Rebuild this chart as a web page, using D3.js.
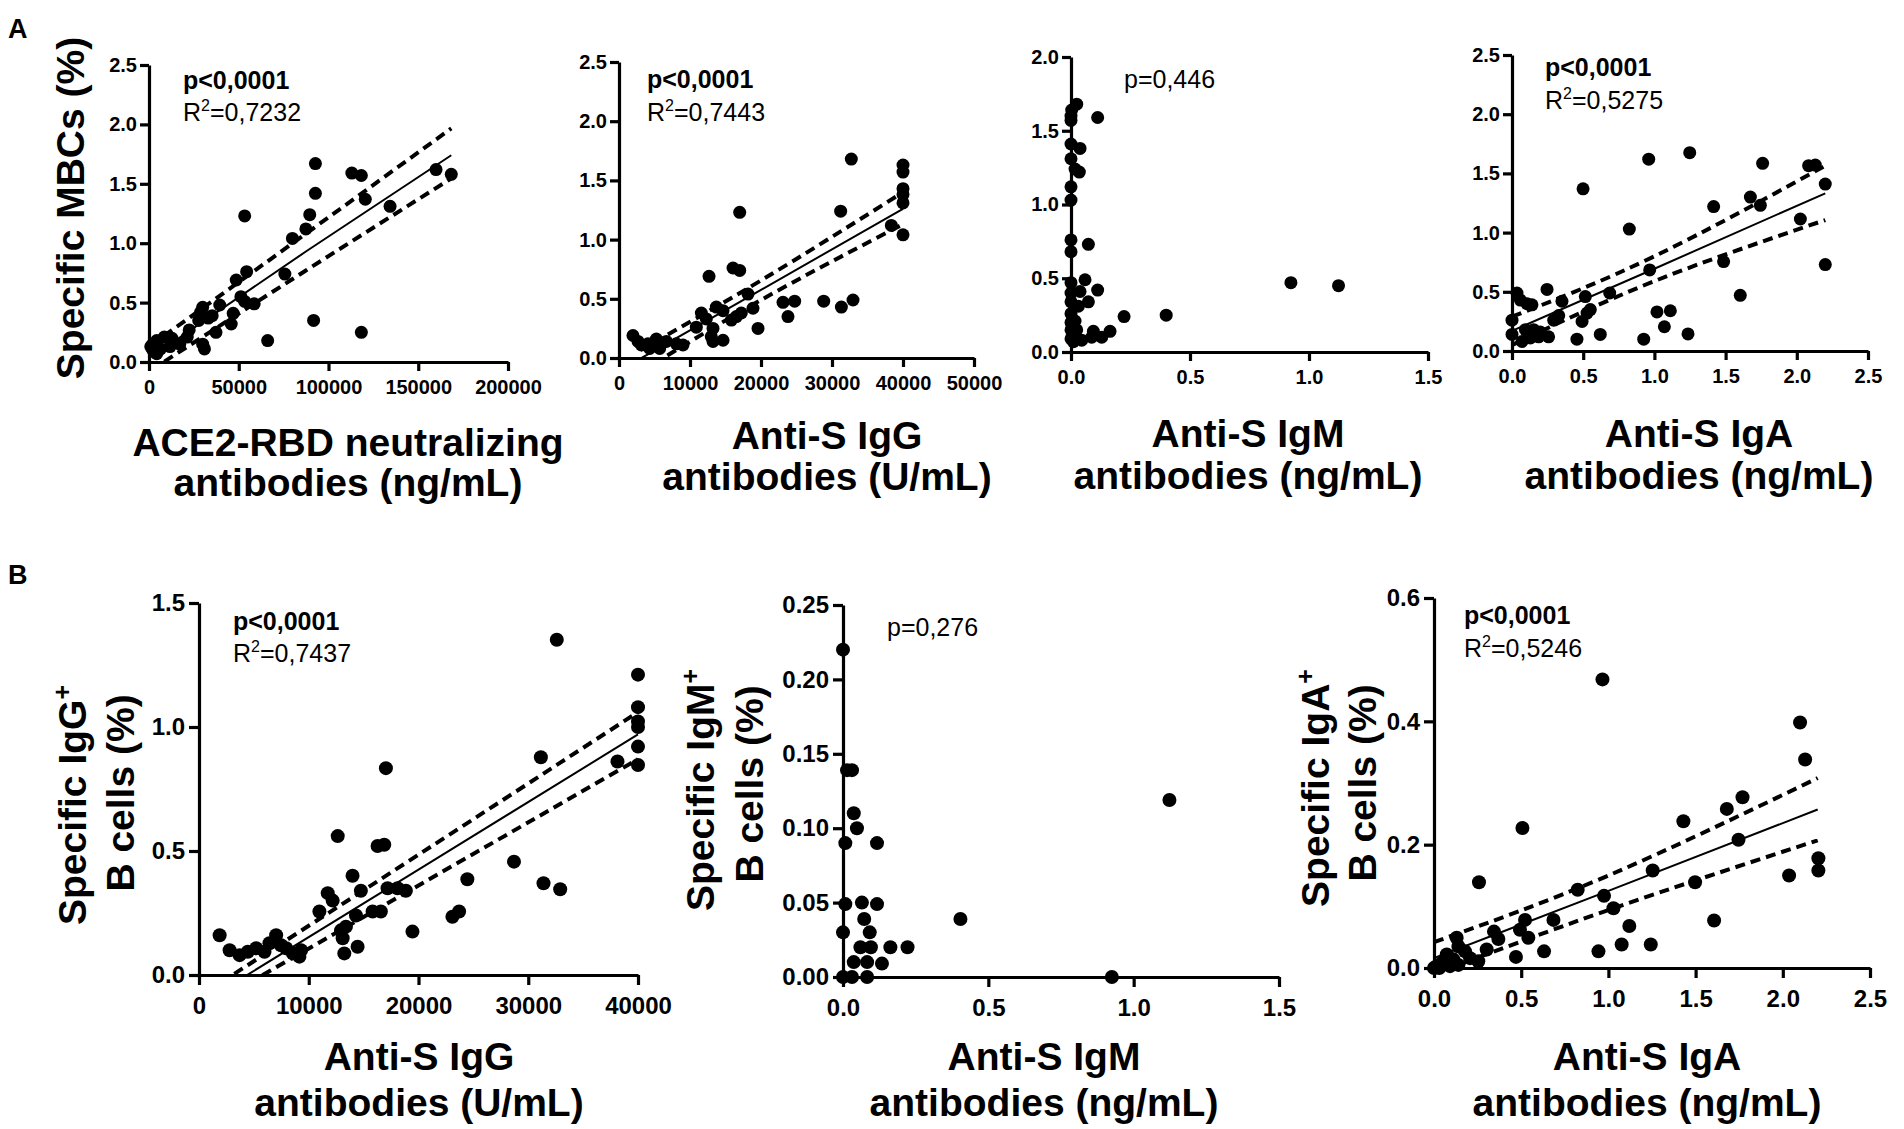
<!DOCTYPE html>
<html>
<head>
<meta charset="utf-8">
<script src="https://cdn.jsdelivr.net/npm/d3@7"></script>
<style>
  body { margin: 0; background: #fff; }
  svg { display: block; }
  text { font-family: "Liberation Sans", Arial, sans-serif; fill: #000; }
</style>
</head>
<body>
<svg id="fig" width="1904" height="1129"></svg>
<script>
// ---- values ----
// A: specific MBCs (%) against each antibody measure
const mbcVsAce2 = [[159900,1.62],[168400,1.58],[113000,1.59],[118300,1.57],[92700,1.67],[92700,1.42],[120500,1.37],[134300,1.31],[89550,1.24],[87400,1.12],[79900,1.04],[53300,1.23],[75700,0.74],[54400,0.76],[48600,0.69],[53300,0.51],[58600,0.49],[51200,0.55],[39400,0.48],[46900,0.41],[45800,0.32],[37300,0.25],[29900,0.46],[28800,0.42],[33000,0.37],[27700,0.35],[35200,0.39],[22400,0.27],[21300,0.21],[30900,0.11],[29900,0.15],[66100,0.18],[91700,0.35],[118300,0.25],[17100,0.15],[12800,0.20],[8500,0.21],[4300,0.18],[2100,0.15],[2100,0.10],[6400,0.11],[11700,0.13],[4300,0.07],[1000,0.13]];
const mbcVsIgG = [[32720,1.68],[40000,1.63],[40000,1.57],[40000,1.43],[40000,1.38],[40000,1.31],[40000,1.04],[38360,1.12],[31220,1.24],[17000,1.23],[16060,0.76],[17000,0.74],[12680,0.69],[18170,0.54],[18870,0.42],[19580,0.25],[23100,0.47],[24740,0.48],[23800,0.35],[28830,0.48],[31320,0.43],[32960,0.49],[17230,0.38],[16530,0.35],[15830,0.32],[14650,0.40],[13710,0.43],[11600,0.38],[12300,0.33],[10890,0.26],[13240,0.25],[13000,0.18],[13240,0.14],[14650,0.15],[8080,0.12],[9010,0.11],[6670,0.14],[5260,0.16],[4080,0.12],[3150,0.11],[1970,0.19],[2680,0.14],[5730,0.08],[4320,0.08]];
const mbcVsIgM = [[0.024,1.68],[0.003,1.64],[0,1.60],[0,1.57],[0.112,1.59],[0,1.41],[0.038,1.38],[0,1.31],[0.017,1.24],[0.035,1.22],[0,1.12],[0,1.03],[0,0.76],[0,0.68],[0.073,0.73],[0.059,0.49],[0,0.47],[0.112,0.42],[0,0.40],[0.038,0.41],[0.073,0.34],[0,0.34],[0.031,0.31],[0,0.26],[0,0.20],[0,0.15],[0,0.09],[0.024,0.15],[0.045,0.08],[0.087,0.10],[0.129,0.10],[0.164,0.14],[0.094,0.14],[0.223,0.24],[0.40,0.25],[0.924,0.47],[1.124,0.45],[0.017,0.21],[0.01,0.07]];
const mbcVsIgA = [[1.248,1.675],[0.960,1.62],[1.760,1.585],[2.083,1.565],[2.130,1.57],[2.200,1.41],[0.499,1.37],[1.674,1.30],[1.744,1.23],[1.416,1.22],[2.025,1.115],[0.824,1.03],[2.200,0.73],[1.486,0.755],[0.967,0.685],[1.603,0.47],[0.686,0.49],[0.246,0.52],[0.515,0.46],[1.018,0.33],[1.112,0.34],[1.070,0.205],[1.236,0.144],[0.925,0.10],[0.620,0.14],[0.456,0.10],[0.527,0.32],[0.550,0.35],[0.492,0.25],[0.351,0.42],[0.328,0.30],[0.293,0.26],[0.035,0.49],[0.059,0.43],[0.105,0.40],[0.14,0.39],[0,0.26],[0,0.14],[0.07,0.08],[0.129,0.11],[0.187,0.12],[0.257,0.12],[0.152,0.18],[0.199,0.16],[0.094,0.18]];

// B: isotype-specific B cells (%)
const igGCellsVsIgG = [[1880,0.16],[2790,0.10],[3700,0.08],[4450,0.094],[5210,0.108],[5970,0.094],[6420,0.128],[7030,0.16],[7480,0.12],[7940,0.108],[8550,0.087],[9150,0.074],[9300,0.10],[10970,0.256],[11730,0.33],[12640,0.56],[12180,0.30],[12940,0.18],[13090,0.148],[13240,0.087],[13390,0.195],[13990,0.40],[14300,0.24],[14450,0.114],[14750,0.34],[15820,0.256],[16270,0.52],[16880,0.525],[16570,0.256],[17030,0.834],[17180,0.35],[18090,0.35],[18850,0.34],[19450,0.175],[23090,0.235],[23700,0.256],[24450,0.386],[28700,0.457],[32600,1.352],[40000,1.211],[40000,1.08],[40000,1.022],[40000,1.0],[40000,0.921],[40000,0.847],[38130,0.861],[31150,0.878],[31390,0.37],[32910,0.346]];
const igMCellsVsIgM = [[0,0.22],[0.014,0.139],[0.031,0.139],[0.037,0.11],[0.048,0.10],[0.008,0.09],[0.117,0.09],[0.008,0.049],[0.065,0.05],[0.117,0.049],[0.073,0.039],[0,0.03],[0.092,0.03],[0.06,0.02],[0.096,0.02],[0.163,0.02],[0.222,0.02],[0.037,0.01],[0.083,0.01],[0.134,0.009],[0,0],[0.031,0],[0.083,0],[0.404,0.039],[0.925,0],[1.123,0.119]];
const igACellsVsIgA = [[0.966,0.468],[0.507,0.227],[0.258,0.139],[2.099,0.398],[2.128,0.338],[1.769,0.277],[1.679,0.258],[1.430,0.238],[1.746,0.208],[1.254,0.158],[1.497,0.139],[2.036,0.150],[2.204,0.178],[2.204,0.158],[0.824,0.127],[0.975,0.117],[1.029,0.097],[1.120,0.068],[1.606,0.077],[1.076,0.038],[1.243,0.038],[0.943,0.027],[0.685,0.078],[0.631,0.027],[0.470,0.018],[0.522,0.078],[0.493,0.062],[0.541,0.049],[0.344,0.059],[0.369,0.047],[0.302,0.030],[0.130,0.049],[0.140,0.035],[0.178,0.027],[0.207,0.016],[0.254,0.011],[0.073,0.022],[0.111,0.014],[0.044,0.008],[0.015,0.003],[0.092,0.003],[0.140,0.005],[0,0],[0.03,0]];

// regression fits, rows of [x, lower 95% band, fit, upper 95% band]
const fitAce2 = [[1000,-0.07,0.04,0.14],[87400,0.77,0.93,1.08],[168400,1.545,1.74,1.966]];
const fitIgG = [[3000,-0.12,-0.006,0.068],[20000,0.49,0.575,0.655],[40000,1.13,1.26,1.40]];
const fitIgA = [[0,0.05,0.17,0.29],[1.0,0.59,0.695,0.80],[2.2,1.106,1.332,1.565]];
const fitIgGCells = [[2000,-0.097,-0.065,-0.03],[20000,0.361,0.425,0.485],[40000,0.87,0.97,1.06]];
const fitIgACells = [[0,-0.01,0.016,0.042],[1.0,0.094,0.125,0.15],[2.2,0.207,0.257,0.308]];

// axis ticks
const ticksAce2 = [0, 50000, 100000, 150000, 200000];
const ticksIgG = [0, 10000, 20000, 30000, 40000, 50000];
const ticksIgGB = [0, 10000, 20000, 30000, 40000];
const ticksIgM = [0, 0.5, 1.0, 1.5];
const ticksIgA = [0, 0.5, 1.0, 1.5, 2.0, 2.5];
const ticksMbc = [0, 0.5, 1.0, 1.5, 2.0, 2.5];
const ticksMbcIgM = [0, 0.5, 1.0, 1.5, 2.0];
const ticksIgGCells = [0, 0.5, 1.0, 1.5];
const ticksIgMCells = [0, 0.05, 0.10, 0.15, 0.20, 0.25];
const ticksIgACells = [0, 0.2, 0.4, 0.6];

// texts
const statsText = [["p<0,0001", "0,7232"], ["p<0,0001", "0,7443"], ["p=0,446", null], ["p<0,0001", "0,5275"],
                   ["p<0,0001", "0,7437"], ["p=0,276", null], ["p<0,0001", "0,5246"]];
const xTitles = [["ACE2-RBD neutralizing", "antibodies (ng/mL)"], ["Anti-S IgG", "antibodies (U/mL)"],
                 ["Anti-S IgM", "antibodies (ng/mL)"], ["Anti-S IgA", "antibodies (ng/mL)"],
                 ["Anti-S IgG", "antibodies (U/mL)"], ["Anti-S IgM", "antibodies (ng/mL)"], ["Anti-S IgA", "antibodies (ng/mL)"]];

// ---- layout (pixels) ----
const panels = [
  { data: mbcVsAce2, fit: fitAce2, xr: [149, 508], yr: [362, 65], xd: [0, 200000], yd: [0, 2.5],
    xt: ticksAce2, yt: ticksMbc, xf: d3.format("d"), yf: d3.format(".1f"), row: "A",
    stat: [183, 89, 121], title: [348, 456, 496],
    ylab: [{ t: "Specific MBCs (%)", x: 84, y: 208 }] },
  { data: mbcVsIgG, fit: fitIgG, xr: [619, 974], yr: [358, 62], xd: [0, 50000], yd: [0, 2.5],
    xt: ticksIgG, yt: ticksMbc, xf: d3.format("d"), yf: d3.format(".1f"), row: "A",
    stat: [647, 88, 121], title: [827, 449, 490], ylab: [] },
  { data: mbcVsIgM, fit: null, xr: [1071, 1428], yr: [352, 57], xd: [0, 1.5], yd: [0, 2.0],
    xt: ticksIgM, yt: ticksMbcIgM, xf: d3.format(".1f"), yf: d3.format(".1f"), row: "A",
    stat: [1124, 88, 0], title: [1248, 447, 489], ylab: [] },
  { data: mbcVsIgA, fit: fitIgA, xr: [1512, 1868], yr: [351, 55], xd: [0, 2.5], yd: [0, 2.5],
    xt: ticksIgA, yt: ticksMbc, xf: d3.format(".1f"), yf: d3.format(".1f"), row: "A",
    stat: [1545, 76, 109], title: [1699, 447, 489], ylab: [] },
  { data: igGCellsVsIgG, fit: fitIgGCells, xr: [199, 638], yr: [975, 603], xd: [0, 40000], yd: [0, 1.5],
    xt: ticksIgGB, yt: ticksIgGCells, xf: d3.format("d"), yf: d3.format(".1f"), row: "B",
    stat: [233, 630, 662], title: [419, 1070, 1116],
    ylab: [{ t: "Specific IgG", sup: "+", x: 86, y: 805 }, { t: "B cells (%)", x: 134, y: 793 }] },
  { data: igMCellsVsIgM, fit: null, xr: [843, 1279], yr: [977, 605], xd: [0, 1.5], yd: [0, 0.25],
    xt: ticksIgM, yt: ticksIgMCells, xf: d3.format(".1f"), yf: d3.format(".2f"), row: "B",
    stat: [887, 636, 0], title: [1044, 1070, 1116],
    ylab: [{ t: "Specific IgM", sup: "+", x: 714, y: 790 }, { t: "B cells (%)", x: 763, y: 784 }] },
  { data: igACellsVsIgA, fit: fitIgACells, xr: [1434, 1870], yr: [968, 598], xd: [0, 2.5], yd: [0, 0.6],
    xt: ticksIgA, yt: ticksIgACells, xf: d3.format(".1f"), yf: d3.format(".1f"), row: "B",
    stat: [1464, 624, 657], title: [1647, 1070, 1116],
    ylab: [{ t: "Specific IgA", sup: "+", x: 1329, y: 788 }, { t: "B cells (%)", x: 1376, y: 783 }] }
];

const svg = d3.select("#fig");
svg.append("rect").attr("width", 1904).attr("height", 1129).attr("fill", "#fff");

svg.append("text").attr("x", 8).attr("y", 38).attr("font-size", 27).attr("font-weight", "bold").text("A");
svg.append("text").attr("x", 8).attr("y", 584).attr("font-size", 27).attr("font-weight", "bold").text("B");

panels.forEach(function(p, i) {
  let big = p.row == "B";
  let sx = d3.scaleLinear().domain(p.xd).range(p.xr);
  let sy = d3.scaleLinear().domain(p.yd).range(p.yr);
  let g = svg.append("g");
  let tickFont = big ? 24 : 20;

  // clip for fit lines
  let clipId = "clip" + i;
  svg.append("clipPath").attr("id", clipId)
    .append("rect")
    .attr("x", p.xr[0]).attr("y", p.yr[1] - 10)
    .attr("width", p.xr[1] - p.xr[0] + 10).attr("height", p.yr[0] - p.yr[1] + 10);

  // axes
  let xAxis = d3.axisBottom(sx).tickValues(p.xt).tickFormat(p.xf)
    .tickSize(big ? 10 : 9).tickSizeOuter(0).tickPadding(big ? 12 : 9);
  let yAxis = d3.axisLeft(sy).tickValues(p.yt).tickFormat(p.yf)
    .tickSize(big ? 10 : 9).tickSizeOuter(0).tickPadding(big ? 4 : 3);

  let gx = g.append("g").attr("transform", "translate(0," + p.yr[0] + ")").call(xAxis);
  let gy = g.append("g").attr("transform", "translate(" + p.xr[0] + ",0)").call(yAxis);
  [gx, gy].forEach(function(a) {
    a.selectAll("path, line").attr("stroke", "#000").attr("stroke-width", 3.2);
    a.selectAll("text").attr("font-size", tickFont).attr("font-weight", "bold")
      .attr("font-family", "'Liberation Sans', Arial, sans-serif").attr("fill", "#000");
  });

  // points
  g.append("g").selectAll("circle")
    .data(p.data)
    .enter()
    .append("circle")
    .attr("cx", function(d) { return sx(d[0]); })
    .attr("cy", function(d) { return sy(d[1]); })
    .attr("r", big ? 7 : 6.5)
    .attr("fill", "#000");

  // regression line and 95% bands
  if (p.fit) {
    let fg = g.append("g").attr("clip-path", "url(#" + clipId + ")");
    [1, 2, 3].forEach(function(k) {
      let line = d3.line()
        .x(function(d) { return sx(d[0]); })
        .y(function(d) { return sy(d[k]); })
        .curve(d3.curveNatural);
      fg.append("path")
        .attr("d", line(p.fit))
        .attr("fill", "none")
        .attr("stroke", "#000")
        .attr("stroke-width", k == 2 ? 2 : 4)
        .attr("stroke-dasharray", k == 2 ? null : "10,6");
    });
  }

  // statistics
  let st = statsText[i];
  g.append("text").attr("x", p.stat[0]).attr("y", p.stat[1])
    .attr("font-size", 25)
    .attr("font-weight", st[1] ? "bold" : "normal")
    .text(st[0]);
  if (st[1]) {
    let r = g.append("text").attr("x", p.stat[0]).attr("y", p.stat[2]).attr("font-size", 25);
    r.append("tspan").text("R");
    r.append("tspan").attr("font-size", 16).attr("dy", -10).text("2");
    r.append("tspan").attr("dy", 10).text("=" + st[1]);
  }

  // x title
  xTitles[i].forEach(function(t, j) {
    g.append("text")
      .attr("x", p.title[0]).attr("y", p.title[1 + j])
      .attr("text-anchor", "middle")
      .attr("font-size", 39).attr("font-weight", "bold")
      .text(t);
  });

  // y title
  p.ylab.forEach(function(l) {
    let t = g.append("text")
      .attr("transform", "translate(" + l.x + "," + l.y + ") rotate(-90)")
      .attr("text-anchor", "middle")
      .attr("font-size", 39).attr("font-weight", "bold");
    t.append("tspan").text(l.t);
    if (l.sup) {
      t.append("tspan").attr("font-size", 25).attr("dy", -15).text(l.sup);
    }
  });
});
</script>
</body>
</html>
